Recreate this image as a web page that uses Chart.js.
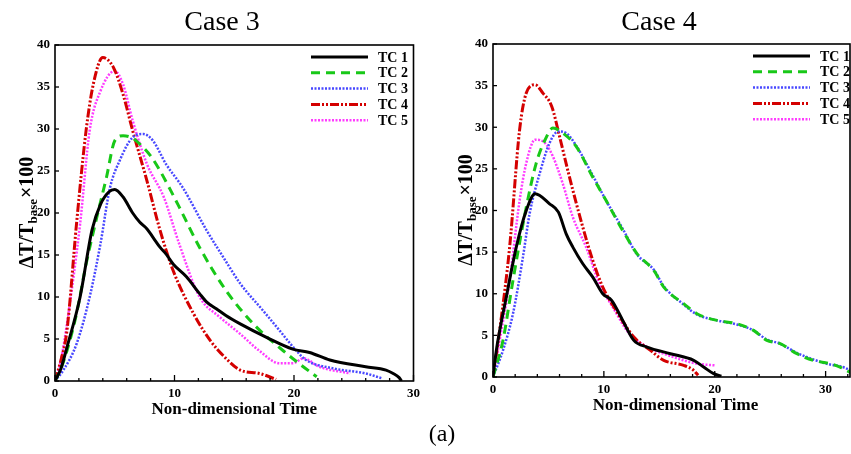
<!DOCTYPE html>
<html>
<head>
<meta charset="utf-8">
<script src="https://cdn.jsdelivr.net/npm/chart.js@4"></script>
<style>
  body { margin: 0; background: #fff; }
  #wrap { position: relative; width: 851px; height: 454px; overflow: hidden; }
  #c3 { position: absolute; left: 0; top: 0; }
  #c4 { position: absolute; left: 430px; top: 0; }
  #lab { position: absolute; left: 412px; top: 420px; width: 60px; text-align: center;
         font: 24px "Liberation Serif", serif; color: #000; }
</style>
</head>
<body>
<div id="wrap">
  <canvas id="c3" width="425" height="454"></canvas>
  <canvas id="c4" width="421" height="454"></canvas>
  <div id="lab">(a)</div>
</div>
<script>
// ---- Case 3 ----
var c3_tc1_t = [0,0.5,1,2.1,3.1,3.8,4.5,5,5.7,6.5,7.1,7.7,8.2,8.8,9.3,9.9,11,12.1,12.7,13.5,14.3,15.5,17.7,19.9,21.3,23,26,27.7,28.3,28.8,29];
var c3_tc1_v = [0,1.5,4,10,18,21,22.5,22.8,21.9,20,18.9,18.1,17.1,15.9,15.1,13.9,12.4,10.4,9.4,8.6,7.8,6.8,5.2,3.8,3.4,2.5,1.7,1.3,0.9,0.4,0];
var c3_tc2_t = [0,0.5,1,1.8,2.6,3.5,4.3,5,5.7,6.5,7.1,8,8.8,9.6,10.4,12.1,14.3,16.6,19.1,20.5,21.9];
var c3_tc2_v = [0,1.5,3.6,8,13.9,19.5,24.2,28.6,29.2,28.9,28.2,26.8,25,22.9,20.7,15.9,10.8,6.8,3.6,2,0.5];
var c3_tc3_t = [0,0.7,1.8,2.9,3.8,4.6,5.4,6.5,7.4,8.2,9.3,10.7,12.7,14.1,15.5,17.4,18.8,20.2,21,23.3,26,27.4];
var c3_tc3_v = [0,1.3,4.4,10,16.3,23,26.2,29,29.4,28.6,25.8,23,17.9,14.7,11.6,8.4,6,3.6,2.5,1.5,0.9,0.3];
var c3_tc4_t = [0,0.5,1,1.8,2.6,3.2,4,4.9,5.7,6.5,7.7,8.8,9.9,11.6,13,14.3,15.5,17.1,18.5];
var c3_tc4_v = [0,2.5,6,18.7,29.8,35.3,38.5,37.3,34.1,29.8,23.8,17.9,13.1,8,4.8,2.7,1.3,0.9,0.2];
var c3_tc5_t = [0,0.5,1,2.1,2.9,3.8,5,5.7,6.5,7.7,9.1,10.4,12.1,13.8,15.5,17.1,18.8,19.9,20.8,22.1,24.7];
var c3_tc5_v = [0,2.5,6.8,18.7,29.8,34.5,36.9,35.3,31,25.8,21.9,16.3,10,7.6,5.6,3.6,2.1,2.1,2.7,1.7,0.9];

// ---- Case 4 ----
var c4_tc1_t = [0,0.3,1.2,2.1,3,3.8,5.1,5.9,6.6,7.2,8.1,9,9.9,10.7,11.7,12.7,13.9,16,18.1,19,19.9,20.6];
var c4_tc1_v = [0,3.2,9.6,15.6,20,22,20.8,19.8,17.2,15.6,13.6,12,10,9.2,6.8,4.4,3.6,2.8,2,1.2,0.4,0.1];
var c4_tc2_t = [0,0.9,1.8,3,3.9,4.7,5.4,6.3,7.5,9,10.2,11.7,13,14.5,15.4,17.2,18.4,20.2,22,23.5,24.7,25.9,27.4,28.9,30.4,31.3,32.3];
var c4_tc2_v = [0,4.4,11.6,20.4,25.7,28.5,29.9,29.3,27.7,24,21.2,17.6,14.8,12.8,10.8,8.8,7.6,6.8,6.4,5.6,4.4,4,2.8,2,1.6,1.2,0.5];
var c4_tc3_t = [0,0.9,1.8,2.7,3.3,4.2,5.1,5.9,6.6,7.5,9,10.2,11.7,13,14.5,15.4,17.2,18.4,20.2,22,23.5,24.7,25.9,27.4,28.9,30.4,31.3,32.3];
var c4_tc3_v = [0,3.2,7.6,14.4,19.6,24.4,28.1,29.5,29.3,27.8,24.2,21.2,17.8,14.7,12.9,10.9,8.7,7.5,6.8,6.3,5.6,4.5,4,2.9,2.1,1.5,1.3,0.8];
var c4_tc4_t = [0,0.6,1.5,2.4,3,3.8,4.5,5.3,6,6.9,8.1,9,9.9,11.1,12.7,14.2,15.4,17.2,18.1,18.5];
var c4_tc4_v = [0,5.6,15.6,29.7,34.1,35.1,34.1,32.5,28.9,24,18,14,10.8,8,4.8,3.2,2,1.4,0.8,0.2];
var c4_tc5_t = [0,0.6,1.5,2.4,3,3.8,4.7,5.4,6.3,7.2,8.4,9.6,10.8,12.3,13.9,15.4,17.2,18.4,20];
var c4_tc5_v = [0,4.4,11.6,21.2,25.7,28.5,28.1,26.5,23.2,19.2,15.6,11.2,8.4,5.2,3.6,2.8,2,1.6,1.4];

var seriesNames = ['TC 1', 'TC 2', 'TC 3', 'TC 4', 'TC 5'];
var xTicks = [0, 10, 20, 30];
var yTicks = [0, 5, 10, 15, 20, 25, 30, 35, 40];

var styles = [
  { color: '#000000', width: 3, dash: [] },
  { color: '#18c818', width: 3, dash: [9, 6] },
  { color: '#4848ff', width: 2.5, dash: [2, 1.5] },
  { color: '#d40000', width: 3, dash: [9, 2, 2, 2, 2, 2] },
  { color: '#ff3cff', width: 2.5, dash: [2, 1.5] }
];

function pts(t, v) {
  return t.map(function (x, i) { return { x: x, y: v[i] }; });
}

function makeSets(list) {
  return list.map(function (s, i) {
    return {
      label: seriesNames[i],
      data: pts(s[0], s[1]),
      borderColor: styles[i].color,
      borderWidth: styles[i].width,
      borderDash: styles[i].dash,
      pointRadius: 0,
      fill: false,
      tension: 0.35,
      cubicInterpolationMode: 'monotone'
    };
  });
}

// box, inward ticks, titles, legend
var decor = {
  id: 'decor',
  afterDraw: function (chart) {
    var o = chart.options.plugins.decor;
    var ctx = chart.ctx, a = chart.chartArea;
    var xs = chart.scales.x, ys = chart.scales.y;
    ctx.save();
    ctx.strokeStyle = '#000';
    ctx.lineWidth = 1.6;
    ctx.setLineDash([]);
    ctx.strokeRect(a.left, a.top, a.right - a.left, a.bottom - a.top);
    ctx.lineWidth = 1.3;
    for (var t = 0; t <= xs.max; t += 2) {
      var px = xs.getPixelForValue(t);
      var len = (t % 10 === 0) ? 6 : 3;
      ctx.beginPath(); ctx.moveTo(px, a.bottom); ctx.lineTo(px, a.bottom - len); ctx.stroke();
    }
    yTicks.forEach(function (v) {
      var py = ys.getPixelForValue(v);
      ctx.beginPath(); ctx.moveTo(a.left, py); ctx.lineTo(a.left + 4, py); ctx.stroke();
    });

    // title
    ctx.fillStyle = '#000';
    ctx.font = '28px "Liberation Serif", serif';
    ctx.textAlign = 'center';
    ctx.textBaseline = 'alphabetic';
    ctx.fillText(o.title, o.titleX, 30);

    // x title
    ctx.font = 'bold 17px "Liberation Serif", serif';
    ctx.fillText('Non-dimensional Time', (a.left + a.right) / 2 + o.xtDx, o.xtY);

    // y title with subscript
    ctx.save();
    ctx.translate(o.ytX, (a.top + a.bottom) / 2);
    ctx.rotate(-Math.PI / 2);
    var f1 = 'bold 20px "Liberation Serif", serif';
    var f2 = 'bold 13px "Liberation Serif", serif';
    var p1 = '\u0394T/T', p2 = 'base', p3 = '\u00d7100';
    ctx.font = f1; var w1 = ctx.measureText(p1).width; var w3 = ctx.measureText(p3).width;
    ctx.font = f2; var w2 = ctx.measureText(p2).width;
    var x0 = -(w1 + w2 + w3) / 2;
    ctx.textAlign = 'left';
    ctx.font = f1; ctx.fillText(p1, x0, 7);
    ctx.font = f2; ctx.fillText(p2, x0 + w1, 11);
    ctx.font = f1; ctx.fillText(p3, x0 + w1 + w2 + 1, 7);
    ctx.restore();

    // legend
    ctx.font = 'bold 14px "Liberation Serif", serif';
    ctx.textAlign = 'left';
    ctx.textBaseline = 'middle';
    chart.data.datasets.forEach(function (d, i) {
      var y = o.legY + i * 15.8;
      ctx.strokeStyle = d.borderColor;
      ctx.lineWidth = d.borderWidth;
      ctx.setLineDash(d.borderDash);
      ctx.beginPath(); ctx.moveTo(o.legX, y); ctx.lineTo(o.legX + 57, y); ctx.stroke();
      ctx.setLineDash([]);
      ctx.fillStyle = '#000';
      ctx.fillText(d.label, o.legX + 67, y + 1);
    });
    ctx.restore();
  }
};

function makeChart(id, sets, xmax, pad, yw, deco) {
  return new Chart(document.getElementById(id), {
    type: 'line',
    data: { datasets: makeSets(sets) },
    plugins: [decor],
    options: {
      responsive: false,
      animation: false,
      devicePixelRatio: 1,
      layout: { padding: pad },
      plugins: { legend: { display: false }, tooltip: { enabled: false }, decor: deco },
      scales: {
        x: {
          type: 'linear', min: 0, max: xmax,
          afterFit: function (s) { s.height = 30; },
          afterBuildTicks: function (s) { s.ticks = xTicks.map(function (v) { return { value: v }; }); },
          grid: { display: false, drawTicks: false },
          border: { display: false },
          ticks: { padding: 5, color: '#000', maxRotation: 0, font: { family: '"Liberation Serif", serif', weight: 'bold', size: 13 } }
        },
        y: {
          type: 'linear', min: 0, max: 40,
          afterFit: function (s) { s.width = yw; },
          afterBuildTicks: function (s) { s.ticks = yTicks.map(function (v) { return { value: v }; }); },
          grid: { display: false, drawTicks: false },
          border: { display: false },
          ticks: { padding: 5, color: '#000', font: { family: '"Liberation Serif", serif', weight: 'bold', size: 13 } }
        }
      }
    }
  });
}

makeChart('c3', [
  [c3_tc1_t, c3_tc1_v], [c3_tc2_t, c3_tc2_v], [c3_tc3_t, c3_tc3_v], [c3_tc4_t, c3_tc4_v], [c3_tc5_t, c3_tc5_v]
], 30, { left: 0, right: 11, top: 45, bottom: 43 }, 55,
  { title: 'Case 3', titleX: 222, xtDx: 0, xtY: 414, ytX: 26, legX: 311, legY: 57 });

makeChart('c4', [
  [c4_tc1_t, c4_tc1_v], [c4_tc2_t, c4_tc2_v], [c4_tc3_t, c4_tc3_v], [c4_tc4_t, c4_tc4_v], [c4_tc5_t, c4_tc5_v]
], 32.2, { left: 0, right: 1, top: 44, bottom: 47 }, 63,
  { title: 'Case 4', titleX: 229, xtDx: 4, xtY: 410, ytX: 35, legX: 323, legY: 56 });
</script>
</body>
</html>
